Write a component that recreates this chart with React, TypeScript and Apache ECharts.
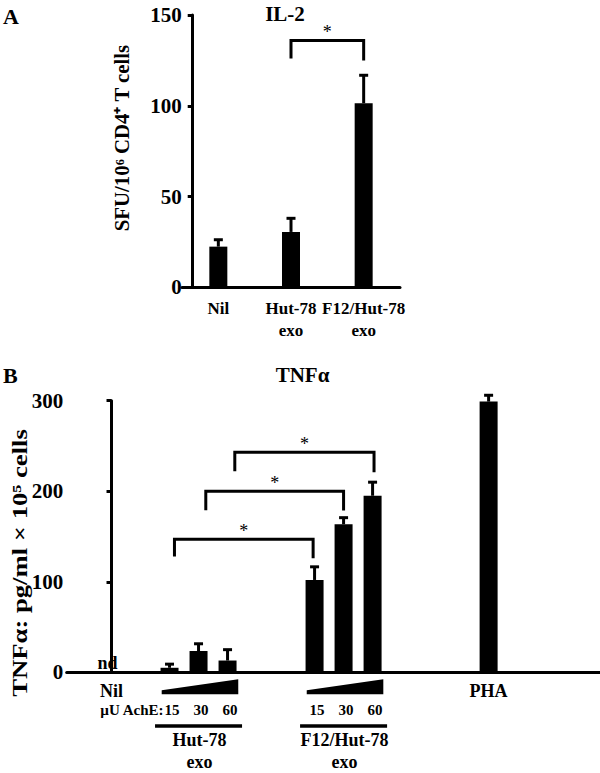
import React, { useEffect, useRef } from 'react';
import * as echarts from 'echarts';

const FONT = "'Liberation Serif', 'Times New Roman', Times, serif";
const INK = '#000';

// ---------- Panel A: IL-2 ----------
const il2Categories = ['Nil', 'Hut-78\nexo', 'F12/Hut-78\nexo'];
const il2Values = [22.4, 30.5, 101.4];
const il2Errors = [3.8, 7.5, 15.4];
const il2Max = 150;
const il2Interval = 50;
// [from, to, top, left foot, right foot]
const il2Brackets = [[1, 2, 136, 126, 125]];

// ---------- Panel B: TNFα ----------
const tnfSlots = ['Nil', '', '15', '30', '60', '', '', '15', '30', '60', '', '', '', 'PHA'];
const tnfValues = [0, null, 5, 23.5, 13, null, null, 102, 163.5, 195, null, null, null, 299];
const tnfErrors = [null, null, 4, 8, 12, null, null, 14.5, 7.3, 15, null, null, null, 7];
const tnfNotDetected = [0];
const tnfGroups = [
  { name: 'Hut-78\nexo', from: 2, to: 4 },
  { name: 'F12/Hut-78\nexo', from: 7, to: 9 },
];
// [from, to, top, left foot, right foot]
const tnfBrackets = [
  [2.17, 6.95, 147, 128, 126],
  [3.25, 8.0, 200, 179, 178.6],
  [4.25, 9.05, 243, 222, 221],
];
const tnfMax = 300;
const tnfInterval = 100;
const doseUnit = 'µU AchE:';

const txt = (extra: any) => ({
  fontFamily: FONT,
  fontWeight: 'bold',
  fill: INK,
  textFill: INK,
  ...extra,
});

function errorRender(_params: any, api: any) {
  const x = api.value(0);
  const y = api.value(1);
  const e = api.value(2);
  const base = api.coord([x, y]);
  const top = api.coord([x, y + e]);
  return {
    type: 'group',
    children: [
      { type: 'line', shape: { x1: base[0], y1: base[1], x2: top[0], y2: top[1] }, style: { stroke: INK, lineWidth: 3 } },
      { type: 'line', shape: { x1: top[0] - 4.5, y1: top[1], x2: top[0] + 4.5, y2: top[1] }, style: { stroke: INK, lineWidth: 3 } },
    ],
  };
}

function bracketRender(_params: any, api: any) {
  const x1 = api.value(0);
  const x2 = api.value(1);
  const top = api.value(2);
  const yl = api.value(3);
  const yr = api.value(4);
  const a = api.coord([x1, yl]);
  const b = api.coord([x1, top]);
  const c = api.coord([x2, top]);
  const d = api.coord([x2, yr]);
  return {
    type: 'group',
    children: [
      { type: 'polyline', shape: { points: [a, b, c, d] }, style: { stroke: INK, lineWidth: 3, fill: null } },
      {
        type: 'text',
        x: (b[0] + c[0]) / 2,
        y: b[1] - 8,
        style: txt({ text: '*', fontSize: 18, fontWeight: 'normal', align: 'center', verticalAlign: 'middle', textAlign: 'center', textVerticalAlign: 'middle' }),
      },
    ],
  };
}

function groupRender(params: any, api: any) {
  const g = tnfGroups[params.dataIndex];
  const p0 = api.coord([g.from, 0]);
  const p1 = api.coord([g.to, 0]);
  const w = api.size([1, 0])[0];
  const y0 = p0[1];
  const xl = p0[0] - 0.27 * w;
  const xr = p1[0] + 0.37 * w;
  const children: any[] = [
    { type: 'polygon', shape: { points: [[xl, y0 + 18], [xr, y0 + 7], [xr, y0 + 22], [xl, y0 + 22]] }, style: { fill: INK } },
    { type: 'rect', shape: { x: p0[0] - 0.5 * w, y: y0 + 52, width: p1[0] - p0[0] + w, height: 3.5 }, style: { fill: INK } },
  ];
  g.name.split('\n').forEach((line, i) => {
    children.push({
      type: 'text',
      x: (p0[0] + p1[0]) / 2 + 1,
      y: y0 + 68 + i * 22,
      style: txt({ text: line, fontSize: 18, lineHeight: 18, align: 'center', verticalAlign: 'middle', textAlign: 'center', textVerticalAlign: 'middle' }),
    });
  });
  for (let s = g.from; s <= g.to; s++) {
    const p = api.coord([s, 0]);
    children.push({
      type: 'text',
      x: p[0] + 2.5,
      y: y0 + 38,
      style: txt({ text: tnfSlots[s], fontSize: 15, align: 'center', verticalAlign: 'middle', textAlign: 'center', textVerticalAlign: 'middle' }),
    });
  }
  if (params.dataIndex === 0) {
    children.push({
      type: 'text',
      x: p0[0] - 6,
      y: y0 + 38,
      style: txt({ text: doseUnit, fontSize: 15, align: 'right', verticalAlign: 'middle', textAlign: 'right', textVerticalAlign: 'middle' }),
    });
  }
  return { type: 'group', children };
}

const axisLineStyle = { show: true, lineStyle: { color: INK, width: 3 } };

export default function App() {
  const ref = useRef<HTMLDivElement>(null);
  useEffect(() => {
    if (!ref.current) return;
    const chart = echarts.init(ref.current, undefined, { renderer: 'svg' });

    const tnfBarData = tnfValues
      .map((v, i) => (v === null ? null : {
        value: [i, v],
        label: tnfNotDetected.includes(i)
          ? { show: true, formatter: 'nd', position: 'top', distance: 0, offset: [-4, 0], color: INK, fontFamily: FONT, fontWeight: 'bold', fontSize: 18 }
          : { show: false },
      }))
      .filter((d) => d !== null);

    const tnfErrData = tnfValues
      .map((v, i) => (v !== null && tnfErrors[i] !== null ? [i, v, tnfErrors[i]] : null))
      .filter((d) => d !== null);

    const tnfLabelSlots = tnfSlots
      .map((s, i) => (s !== '' && !tnfGroups.some((g) => i >= g.from && i <= g.to) ? i : -1))
      .filter((i) => i >= 0);

    chart.setOption({
      animation: false,
      backgroundColor: '#fff',
      grid: [
        { left: 182, top: 15, width: 218, height: 272.3 },
        { left: 66.7, top: 400.7, right: 0, height: 271.6 },
      ],
      xAxis: [
        {
          gridIndex: 0,
          type: 'category',
          data: il2Categories,
          axisLine: axisLineStyle,
          axisTick: { show: false },
          axisLabel: { color: INK, fontFamily: FONT, fontWeight: 'bold', fontSize: 17, lineHeight: 22, margin: 10, interval: 0 },
        },
        {
          gridIndex: 1,
          type: 'value',
          min: -1.545,
          max: 16.84,
          axisLine: axisLineStyle,
          axisTick: { show: false },
          splitLine: { show: false },
          axisLabel: {
            customValues: tnfLabelSlots,
            formatter: (v: number) => tnfSlots[Math.round(v)] || '',
            color: INK,
            fontFamily: FONT,
            fontWeight: 'bold',
            fontSize: 18,
            lineHeight: 20,
            margin: 9,
          },
        },
      ],
      yAxis: [
        {
          gridIndex: 0,
          type: 'value',
          min: 0,
          max: il2Max,
          interval: il2Interval,
          offset: -10.7,
          axisLine: axisLineStyle,
          axisTick: { show: true, length: 5, lineStyle: { color: INK, width: 3 } },
          splitLine: { show: false },
          axisLabel: { color: INK, fontFamily: FONT, fontWeight: 'bold', fontSize: 21, margin: 11 },
        },
        {
          gridIndex: 1,
          type: 'value',
          min: 0,
          max: tnfMax,
          interval: tnfInterval,
          offset: -5.6,
          axisLine: axisLineStyle,
          axisTick: { show: true, length: 5, lineStyle: { color: INK, width: 3 } },
          splitLine: { show: false },
          axisLabel: { color: INK, fontFamily: FONT, fontWeight: 'bold', fontSize: 21, margin: 9 },
        },
      ],
      graphic: [
        { type: 'text', x: 3, y: 16, style: txt({ text: 'A', fontSize: 22, align: 'left', verticalAlign: 'middle', textAlign: 'left', textVerticalAlign: 'middle' }) },
        { type: 'text', x: 285, y: 14, style: txt({ text: 'IL-2', fontSize: 21, align: 'center', verticalAlign: 'middle', textAlign: 'center', textVerticalAlign: 'middle' }) },
        { type: 'text', x: 122.5, y: 138, rotation: Math.PI / 2, scaleX: 1.04, style: txt({ text: 'SFU/10⁶ CD4⁺ T cells', fontSize: 20, align: 'center', verticalAlign: 'middle', textAlign: 'center', textVerticalAlign: 'middle' }) },
        { type: 'text', x: 3, y: 375, style: txt({ text: 'B', fontSize: 22, align: 'left', verticalAlign: 'middle', textAlign: 'left', textVerticalAlign: 'middle' }) },
        { type: 'text', x: 302.5, y: 375, style: txt({ text: 'TNFα', fontSize: 21, align: 'center', verticalAlign: 'middle', textAlign: 'center', textVerticalAlign: 'middle' }) },
        { type: 'text', x: 20, y: 563, rotation: Math.PI / 2, scaleX: 1.27, style: txt({ text: 'TNFα: pg/ml × 10⁵ cells', fontSize: 21, align: 'center', verticalAlign: 'middle', textAlign: 'center', textVerticalAlign: 'middle' }) },
      ],
      series: [
        { type: 'bar', xAxisIndex: 0, yAxisIndex: 0, data: il2Values, barWidth: 18, itemStyle: { color: INK } },
        {
          type: 'custom', xAxisIndex: 0, yAxisIndex: 0, z: 3,
          data: il2Values.map((v, i) => [i, v, il2Errors[i]]),
          renderItem: errorRender,
        },
        { type: 'custom', xAxisIndex: 0, yAxisIndex: 0, z: 3, clip: false, data: il2Brackets, renderItem: bracketRender },
        { type: 'bar', xAxisIndex: 1, yAxisIndex: 1, data: tnfBarData, barWidth: 18, itemStyle: { color: INK } },
        { type: 'custom', xAxisIndex: 1, yAxisIndex: 1, z: 3, data: tnfErrData, renderItem: errorRender },
        { type: 'custom', xAxisIndex: 1, yAxisIndex: 1, z: 3, clip: false, data: tnfBrackets, renderItem: bracketRender },
        { type: 'custom', xAxisIndex: 1, yAxisIndex: 1, z: 3, clip: false, data: tnfGroups.map((g) => [g.from, 0, g.to]), renderItem: groupRender },
      ],
    });
    return () => chart.dispose();
  }, []);
  return <div ref={ref} style={{ position: 'absolute', left: 0, top: 0, width: 600, height: 773 }} />;
}
